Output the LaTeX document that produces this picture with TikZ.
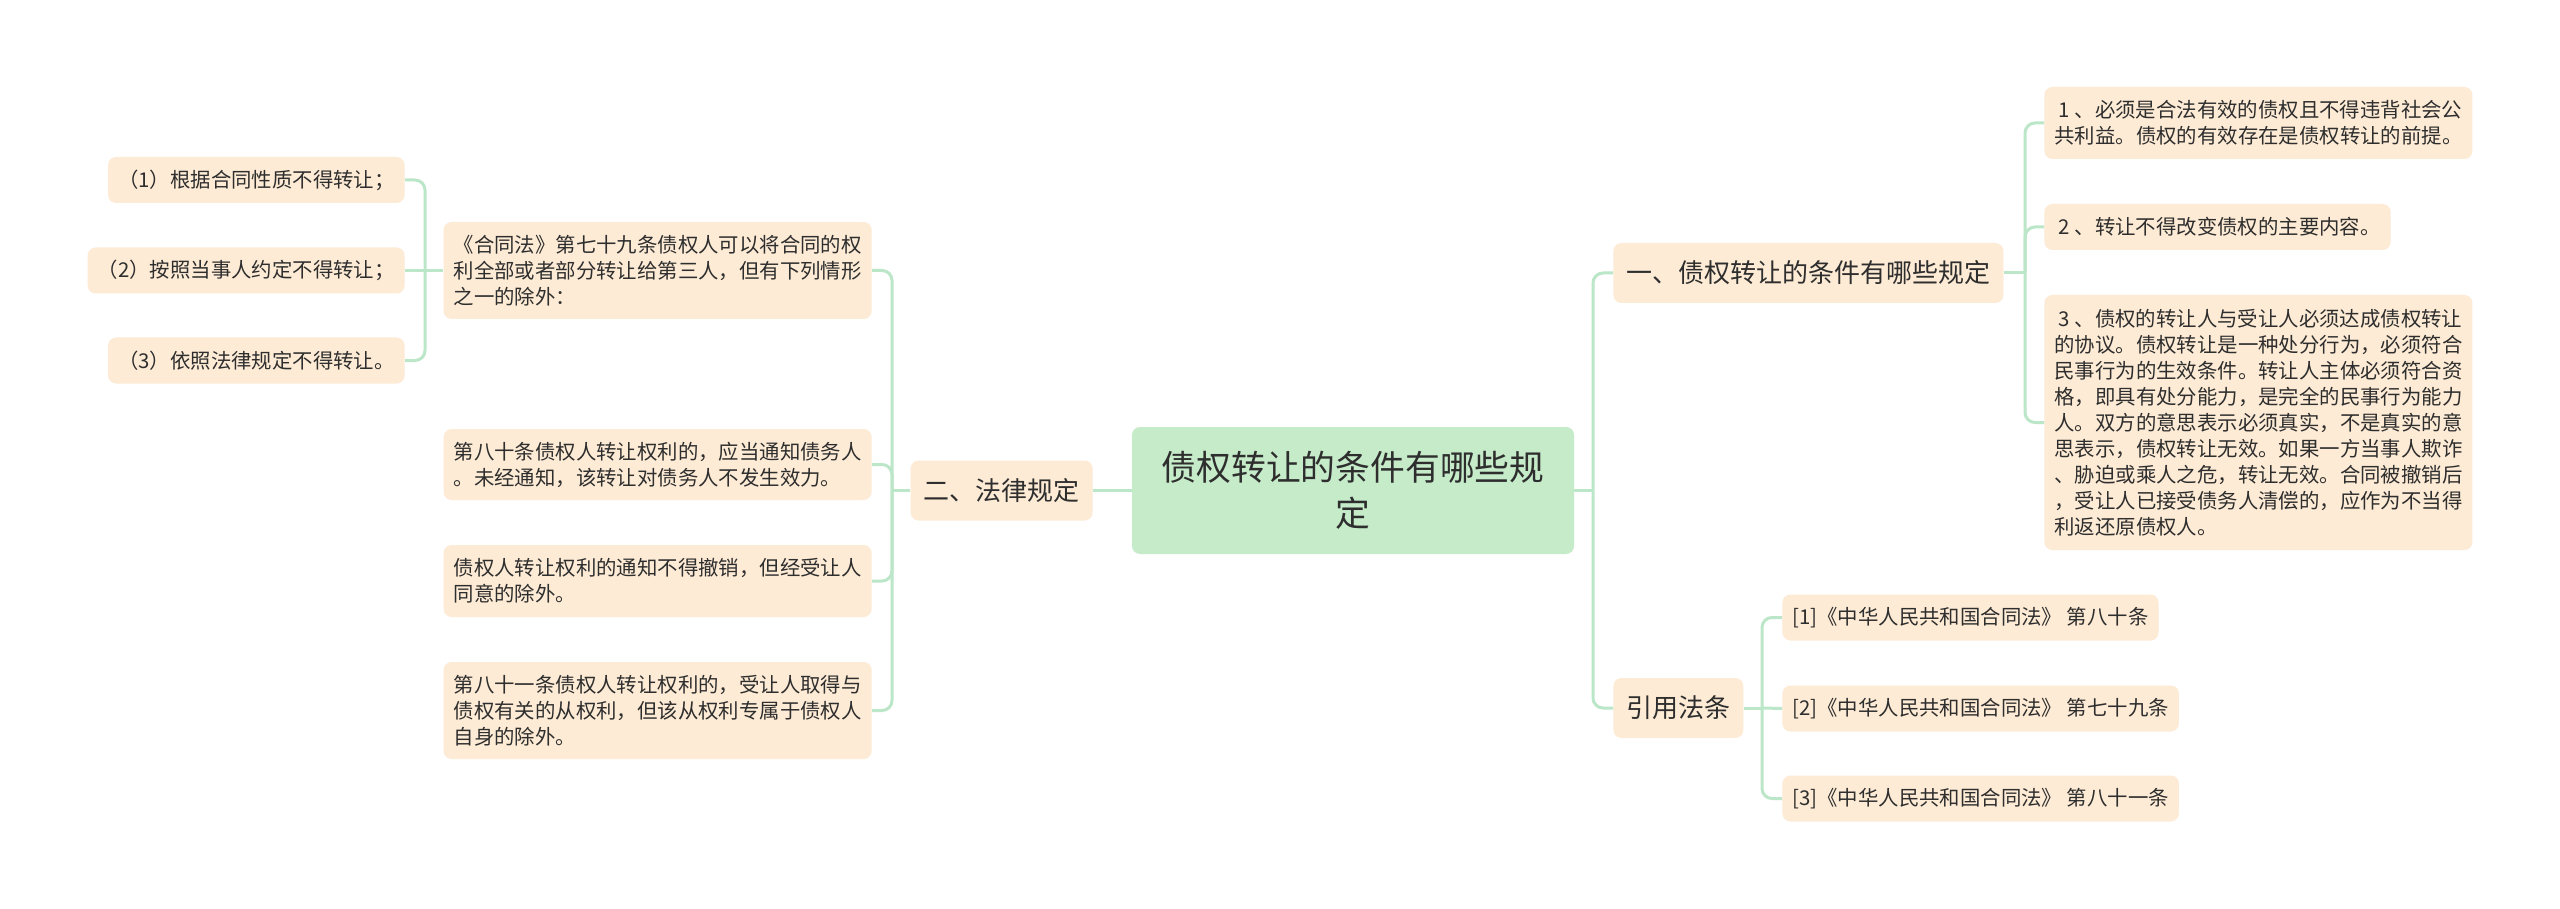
\documentclass[tikz,border=0pt]{standalone}
\usepackage{fontspec}
\setmainfont{Noto Sans CJK SC}
\definecolor{peach}{HTML}{FDEBD5}
\definecolor{mint}{HTML}{C5EBC9}
\definecolor{linec}{HTML}{BCE6C8}
\definecolor{txt}{HTML}{2E2E2E}
\begin{document}
\begin{tikzpicture}[x=0.5pt,y=-0.5pt,
  box/.style={fill=peach, rounded corners=4pt, text=txt, inner xsep=5pt, inner ysep=2pt},
  small/.style={box, font=\fontsize{10.2}{13}\selectfont, align=left},
  one/.style={small, minimum height=23pt},
  mid/.style={box, font=\fontsize{13}{16}\selectfont, inner xsep=6.5pt, minimum height=30pt},
  conn/.style={draw=linec, line width=1.5pt, rounded corners=5pt}]
\fill[white] (0,0) rectangle (2560,909);
\useasboundingbox (0,0) rectangle (2560,909);

% central
\node[fill=mint, rounded corners=4pt, text=txt, minimum width=221pt, minimum height=63.5pt,
  align=center, font=\fontsize{17.4}{23}\selectfont] (C) at (1353,490.5)
  {债权转让的条件有哪些规\\定};

% left branch
\node[mid, anchor=east] (M2) at (1093,490.5) {二、法律规定};
\node[small, anchor=east, minimum height=48.5pt] (A) at (872,270.5)
  {《合同法》第七十九条债权人可以将合同的权\\利全部或者部分转让给第三人，但有下列情形\\之一的除外：};
\node[small, anchor=east, minimum height=35.5pt] (B) at (872,464.5)
  {第八十条债权人转让权利的，应当通知债务人\\。未经通知，该转让对债务人不发生效力。};
\node[small, anchor=east, minimum height=36pt] (Cc) at (872,581)
  {债权人转让权利的通知不得撤销，但经受让人\\同意的除外。};
\node[small, anchor=east, minimum height=48.5pt] (D) at (872,710.5)
  {第八十一条债权人转让权利的，受让人取得与\\债权有关的从权利，但该从权利专属于债权人\\自身的除外。};
\node[one, anchor=east] (L1) at (405,180) {（1）根据合同性质不得转让；};
\node[one, anchor=east] (L2) at (405,270.5) {（2）按照当事人约定不得转让；};
\node[one, anchor=east] (L3) at (405,360.5) {（3）依照法律规定不得转让。};

% right branch
\node[mid, anchor=west] (M1) at (1613,273) {一、债权转让的条件有哪些规定};
\node[small, anchor=west, minimum height=36pt] (R1) at (2044,123)
  {\hspace{0.22em}1\hspace{0.22em}、必须是合法有效的债权且不得违背社会公\\共利益。债权的有效存在是债权转让的前提。};
\node[one, anchor=west] (R2) at (2044,227)
  {\hspace{0.22em}2\hspace{0.22em}、转让不得改变债权的主要内容。};
\node[small, anchor=west, minimum height=127.5pt] (R3) at (2044,422.5)
  {\hspace{0.22em}3\hspace{0.22em}、债权的转让人与受让人必须达成债权转让\\的协议。债权转让是一种处分行为，必须符合\\民事行为的生效条件。转让人主体必须符合资\\格，即具有处分能力，是完全的民事行为能力\\人。双方的意思表示必须真实，不是真实的意\\思表示，债权转让无效。如果一方当事人欺诈\\、胁迫或乘人之危，转让无效。合同被撤销后\\，受让人已接受债务人清偿的，应作为不当得\\利返还原债权人。};

\node[mid, anchor=west] (Ref) at (1613,708) {引用法条};
\node[one, anchor=west] (F1) at (1782,617.5) {[1]《中华人民共和国合同法》 第八十条};
\node[one, anchor=west] (F2) at (1782,708.5) {[2]《中华人民共和国合同法》 第七十九条};
\node[one, anchor=west] (F3) at (1782,798.5) {[3]《中华人民共和国合同法》 第八十一条};

% spine points
\coordinate (sR) at (1593,490.5);
\coordinate (sL) at (892,490.5);
\coordinate (sA) at (425,270.5);
\coordinate (sM1) at (2025,273);
\coordinate (sRef) at (1762,708);

% connectors
\draw[conn] (C.east) -- (sR);
\draw[conn] (sR) |- (M1.west);
\draw[conn] (sR) |- (Ref.west);
\draw[conn] (C.west) -- (M2.east);
\draw[conn] (M2.west) -- (sL);
\draw[conn] (sL) |- (A.east);
\draw[conn] (sL) |- (B.east);
\draw[conn] (sL) |- (Cc.east);
\draw[conn] (sL) |- (D.east);
\draw[conn] (A.west) -- (sA);
\draw[conn] (sA) |- (L1.east);
\draw[conn] (sA) -- (L2.east);
\draw[conn] (sA) |- (L3.east);
\draw[conn] (M1.east) -- (sM1);
\draw[conn] (sM1) |- (R1.west);
\draw[conn] (sM1) |- (R2.west);
\draw[conn] (sM1) |- (R3.west);
\draw[conn] (Ref.east) -- (sRef);
\draw[conn] (sRef) |- (F1.west);
\draw[conn] (sRef) -- (F2.west);
\draw[conn] (sRef) |- (F3.west);
\end{tikzpicture}
\end{document}
